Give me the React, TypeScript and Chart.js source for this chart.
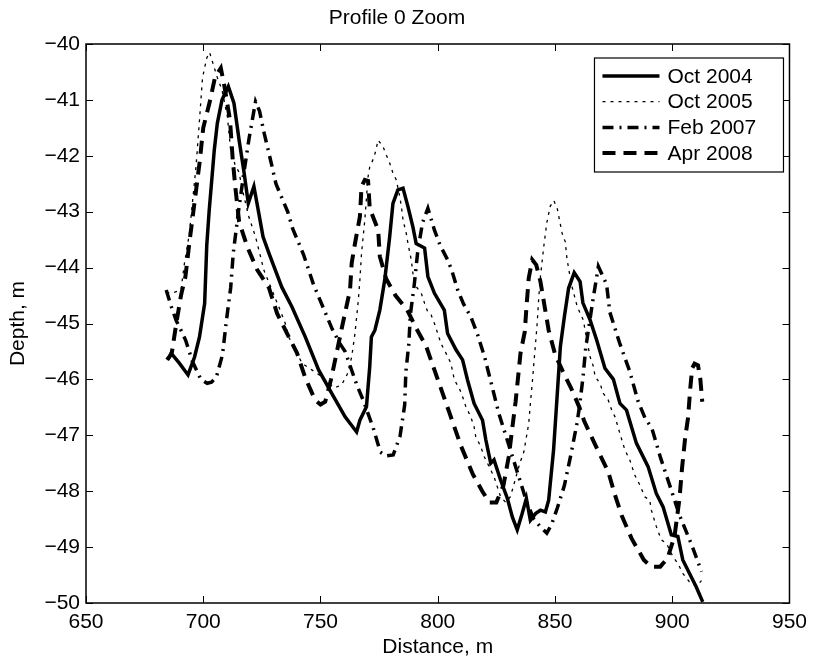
import React, { useEffect, useRef } from 'react';
import { Chart, registerables } from 'chart.js';

Chart.register(...registerables);

const FONT = '"Liberation Sans", Arial, Helvetica, sans-serif';

const chartTitle = 'Profile 0 Zoom';
const xAxisTitle = 'Distance, m';
const yAxisTitle = 'Depth, m';
const seriesLabels = ['Oct 2004', 'Oct 2005', 'Feb 2007', 'Apr 2008'];
const xTicks = [650, 700, 750, 800, 850, 900, 950];
const yTicks = [-50, -49, -48, -47, -46, -45, -44, -43, -42, -41, -40];

const oct2004: [number, number][] = [
  [684.9, -45.65], [686.3, -45.53], [689.8, -45.71], [693.5, -45.92], [696.3, -45.6], [698.4, -45.24],
  [700.6, -44.64], [701.5, -43.6], [702.5, -43.0], [704.7, -41.9], [706, -41.42], [708, -41.0],
  [710.7, -40.76], [713.1, -41.06], [715.3, -41.72], [717.4, -42.3], [719.2, -42.85], [721.6, -42.55],
  [723.7, -43.03], [725.5, -43.45], [728, -43.74], [733.5, -44.35], [737.8, -44.7], [743.5, -45.24],
  [749.2, -45.83], [754.8, -46.25], [760.5, -46.67], [765.4, -46.94], [766.8, -46.73], [769.6, -46.49],
  [770.3, -46.13], [771, -45.77], [771.7, -45.24], [773.2, -45.12], [775.3, -44.76], [777.4, -44.22],
  [779.5, -43.45], [780.9, -42.85], [783, -42.61], [785.2, -42.58], [787.3, -42.91], [789.4, -43.27],
  [790.8, -43.57], [794.4, -43.65], [795.8, -44.16], [798.6, -44.46], [802.8, -44.76], [804.2, -45.18],
  [807.8, -45.47], [810.6, -45.65], [812.7, -46.01], [815.5, -46.43], [819.1, -46.73], [820.5, -47.08],
  [822.6, -47.5], [824, -47.44], [826.8, -47.8], [829.7, -48.13], [831.8, -48.46], [833.9, -48.69],
  [836, -48.4], [837.8, -48.13], [839.5, -48.52], [841.7, -48.4], [843.8, -48.34], [845.9, -48.37],
  [847.3, -48.16], [849.4, -47.26], [850.8, -46.37], [852.3, -45.41], [854, -44.88], [855.8, -44.37],
  [858.2, -44.09], [860.7, -44.25], [861.9, -44.63], [865, -44.94], [867.8, -45.3], [871.3, -45.8],
  [874.9, -46.0], [877.7, -46.43], [880.5, -46.55], [884.7, -47.14], [889.7, -47.56], [893.2, -48.04],
  [896.1, -48.28], [899.6, -48.78], [902.4, -48.81], [904.5, -49.23], [910.2, -49.71], [913, -49.98],
];

const oct2005: [number, number][] = [
  [684.2, -44.45], [687, -44.45], [690.5, -44.4], [692, -43.92], [694.1, -43.39], [695.5, -42.79],
  [696.9, -42.2], [698.3, -41.42], [699.7, -40.6], [701.5, -40.25], [702.7, -40.15], [703.8, -40.3],
  [706, -40.6], [708, -40.82], [710.3, -41.3], [711.7, -41.9], [713.5, -42.15], [715.3, -42.3],
  [716.7, -42.61], [719.5, -43.1], [722.3, -43.45], [724.4, -43.8], [725.8, -44.04], [728.7, -44.34],
  [732.2, -44.7], [735, -45.0], [736.4, -45.24], [739.3, -45.47], [742.1, -45.71], [746.3, -45.83],
  [750.6, -45.95], [753.4, -46.07], [756, -46.15], [759, -46.1], [761.5, -45.9], [763.3, -45.6],
  [764.7, -45.18], [766.1, -44.6], [766.8, -44.22], [767.5, -43.74], [768.9, -43.15], [770.3, -42.37],
  [771, -42.2], [772.9, -42.02], [774.6, -41.72], [776.7, -41.84], [778.1, -41.99], [779.5, -42.13],
  [780.9, -42.31], [782.3, -42.43], [783.8, -42.73], [784.5, -42.91], [785.2, -43.15], [786.6, -43.39],
  [787.3, -43.57], [788.7, -43.86], [789.4, -44.1], [790.8, -44.34], [793, -44.46], [794.4, -44.64],
  [795.8, -44.8], [797.2, -44.85], [798.6, -45.0], [800, -45.18], [801.4, -45.36], [803.5, -45.53],
  [805.6, -45.71], [807.1, -46.01], [809.2, -46.16], [810.6, -46.31], [812, -46.49], [814.1, -46.67],
  [815.5, -46.85], [816.2, -47.02], [818.3, -47.2], [819.8, -47.38], [821.9, -47.56], [824, -47.74],
  [825.4, -47.92], [826.8, -48.1], [829, -48.2], [831, -48.1], [833, -47.8], [835, -47.5],
  [836.7, -47.3], [838.8, -46.79], [839.5, -46.43], [840.3, -46.07], [841, -45.71], [841.7, -45.36],
  [842.4, -45.0], [843.1, -44.52], [843.8, -44.16], [845.2, -43.63], [846.5, -43.2], [848, -42.9],
  [849.5, -42.8], [851, -42.95], [853, -43.38], [854.4, -43.54], [855.1, -43.84], [857, -44.3],
  [859.5, -44.7], [862.1, -44.94], [863.6, -45.3], [865, -45.6], [866.4, -45.77], [867.1, -45.95],
  [869.2, -46.07], [870.6, -46.25], [872.7, -46.37], [874.2, -46.55], [875.6, -46.67], [877.7, -46.97],
  [879.8, -47.26], [881.9, -47.44], [884, -47.71], [886.2, -47.89], [888.3, -48.1], [890.4, -48.16],
  [891.1, -48.34], [893.2, -48.63], [895.3, -48.87], [897.5, -48.93], [900.3, -49.17], [902.5, -49.3],
  [904.5, -49.47], [907.3, -49.62], [910.2, -49.7], [912.5, -49.6],
];

const feb2007: [number, number][] = [
  [684.2, -44.4], [686.4, -44.7], [688.5, -44.95], [690.5, -45.12], [692.5, -45.3], [695.4, -45.68],
  [699, -46.0], [701.7, -46.07], [703.5, -46.05], [705.6, -45.96], [708.2, -45.56], [709.9, -44.94],
  [711.7, -44.36], [712.8, -43.74], [715, -43.0], [717, -42.4], [719.5, -41.7], [722.3, -41.03],
  [724, -41.2], [726, -41.6], [729, -42.13], [731, -42.5], [733.6, -42.76], [736, -43.0],
  [738.1, -43.3], [742.8, -43.77], [747, -44.3], [752, -44.8], [755, -45.1], [758.3, -45.36],
  [760.5, -45.5], [763, -45.8], [765.5, -46.1], [768.2, -46.37], [772.5, -46.87], [775.5, -47.3],
  [778, -47.37], [781, -47.35], [783.9, -47.02], [785.9, -46.46], [786.4, -45.87], [787.7, -45.35],
  [788.3, -44.85], [790, -44.3], [791.5, -43.7], [793.5, -43.2], [795.8, -42.94], [798.6, -43.33],
  [801, -43.6], [804.2, -43.86], [806, -44.05], [808.5, -44.4], [811, -44.65], [814.1, -44.88],
  [817, -45.2], [820, -45.6], [823, -46.1], [826, -46.6], [829, -47.0], [832, -47.4],
  [835, -47.8], [838, -48.2], [841, -48.5], [844, -48.65], [846.5, -48.75], [848.5, -48.6],
  [851, -48.3], [854, -47.9], [857, -47.3], [859.3, -46.8], [860.4, -46.5], [861.9, -45.98],
  [863.1, -45.44], [866.1, -44.6], [868.5, -43.98], [872, -44.3], [873.4, -44.8], [877.5, -45.34],
  [881.9, -45.86], [885.5, -46.4], [888.5, -46.7], [891.3, -46.87], [895, -47.4], [899.6, -47.98],
  [903.1, -48.43], [908.3, -48.96], [912.5, -49.44],
];

const apr2008: [number, number][] = [
  [684.5, -45.65], [686.5, -45.55], [688.5, -45.0], [690.5, -44.5], [692.4, -44.16], [694.1, -43.55],
  [696.6, -42.73], [698.5, -42.1], [700, -41.5], [702.8, -41.03], [705, -40.6], [707.5, -40.43],
  [709, -40.75], [711.4, -41.36], [712.6, -42.08], [713.8, -42.61], [715.3, -43.18], [718.8, -43.63],
  [723, -44.04], [728, -44.36], [731.5, -44.82], [735.4, -45.15], [740, -45.53], [743.5, -45.97],
  [747.7, -46.37], [750, -46.45], [752, -46.4], [754.5, -46.0], [757, -45.5], [759.5, -45.0],
  [762.6, -44.4], [763.3, -43.92], [764.7, -43.57], [766.8, -43.09], [767.5, -42.55], [768.9, -42.43],
  [770.3, -42.45], [771, -42.94], [774.6, -43.33], [775.3, -43.8], [778, -44.2], [782, -44.5],
  [787, -44.76], [791, -45.1], [795, -45.4], [800, -46.0], [805, -46.6], [810, -47.2],
  [815, -47.7], [819, -48.0], [822, -48.2], [825, -48.2], [828, -47.9], [830.3, -47.38],
  [832, -46.8], [833.2, -46.4], [835.3, -45.53], [837.1, -45.15], [837.9, -44.67], [838.8, -44.19],
  [840.3, -43.86], [842, -43.95], [843.8, -44.25], [845.6, -44.7], [847.3, -45.12], [850.1, -45.56],
  [853.7, -45.89], [856.8, -46.15], [860.4, -46.5], [862.5, -46.75], [864.6, -46.94], [868.5, -47.29],
  [872.7, -47.65], [875.6, -48.07], [878.4, -48.43], [882.6, -48.84], [887.9, -49.23], [891, -49.35],
  [894.9, -49.35], [898, -49.2], [901, -48.8], [903.1, -48.13], [904.2, -47.58], [905.5, -47.05],
  [906.8, -46.67], [907.6, -46.2], [908.5, -45.8], [909.5, -45.72], [911, -45.75], [912, -46.0],
  [912.8, -46.4],
];

const seriesData = [oct2004, oct2005, feb2007, apr2008];
const seriesWidths = [3.5, 1.3, 3.5, 4];
const seriesDashes: number[][] = [[], [3, 5], [11, 6, 2, 6], [13, 8]];

const fmt = (v: number) => (v < 0 ? '\u2212' + Math.abs(v) : String(v));

const frame = {
  id: 'matFrame',
  afterDatasetsDraw(chart: any) {
    const { ctx, chartArea, scales } = chart;
    const { left, right, top, bottom } = chartArea;
    const tl = 7;
    ctx.save();
    ctx.strokeStyle = '#000';
    ctx.lineWidth = 1;
    ctx.setLineDash([]);
    ctx.beginPath();
    xTicks.forEach((v) => {
      const px = Math.round(scales.x.getPixelForValue(v)) + 0.5;
      ctx.moveTo(px, bottom); ctx.lineTo(px, bottom - tl);
      ctx.moveTo(px, top); ctx.lineTo(px, top + tl);
    });
    yTicks.forEach((v) => {
      const py = Math.round(scales.y.getPixelForValue(v)) + 0.5;
      ctx.moveTo(left, py); ctx.lineTo(left + tl, py);
      ctx.moveTo(right, py); ctx.lineTo(right - tl, py);
    });
    ctx.stroke();
    ctx.lineWidth = 1.5;
    ctx.strokeRect(left, top, right - left, bottom - top);

    // legend
    const boxW = 189;
    const boxH = 114;
    const boxL = right - 6 - boxW;
    const boxT = top + 14;
    ctx.fillStyle = '#fff';
    ctx.fillRect(boxL, boxT, boxW, boxH);
    ctx.lineWidth = 1.2;
    ctx.strokeRect(boxL, boxT, boxW, boxH);
    ctx.font = `21px ${FONT}`;
    ctx.textBaseline = 'middle';
    ctx.textAlign = 'left';
    chart.data.datasets.forEach((ds: any, i: number) => {
      const y = boxT + 18 + i * 25.7;
      ctx.beginPath();
      ctx.setLineDash(ds.borderDash || []);
      ctx.lineWidth = ds.borderWidth;
      ctx.strokeStyle = '#000';
      ctx.moveTo(boxL + 8, y);
      ctx.lineTo(boxL + 65, y);
      ctx.stroke();
      ctx.setLineDash([]);
      ctx.fillStyle = '#000';
      ctx.fillText(ds.label, boxL + 73, y + 1);
    });
    ctx.restore();
  },
};

export default function App() {
  const ref = useRef<HTMLCanvasElement>(null);
  useEffect(() => {
    if (!ref.current) return;
    const chart = new Chart(ref.current, {
      type: 'line',
      data: {
        datasets: seriesData.map((s, i) => ({
          label: seriesLabels[i],
          data: s.map(([x, y]) => ({ x, y })),
          borderColor: '#000',
          backgroundColor: '#000',
          borderWidth: seriesWidths[i],
          borderDash: seriesDashes[i],
          pointRadius: 0,
          tension: 0,
          fill: false,
        })),
      },
      options: {
        animation: false,
        responsive: false,
        devicePixelRatio: 1,
        layout: { padding: { left: 0, right: 20, top: 0, bottom: 0 } },
        plugins: {
          legend: { display: false },
          tooltip: { enabled: false },
          title: {
            display: true,
            text: chartTitle,
            color: '#000',
            font: { family: FONT, size: 21, weight: 'normal' },
            padding: { top: 6, bottom: 12.8 },
          },
        },
        scales: {
          x: {
            type: 'linear',
            min: 650,
            max: 950,
            afterFit: (s: any) => { s.height = 55; },
            ticks: {
              stepSize: 50,
              autoSkip: false,
              maxRotation: 0,
              padding: 7,
              color: '#000',
              font: { family: FONT, size: 21 },
              callback: (v: any) => fmt(Number(v)),
            },
            grid: { display: false, drawTicks: false },
            border: { display: false },
            title: {
              display: true,
              text: xAxisTitle,
              color: '#000',
              font: { family: FONT, size: 21, lineHeight: 1 },
              padding: { top: 0, bottom: 0 },
            },
          },
          y: {
            type: 'linear',
            min: -50,
            max: -40,
            afterFit: (s: any) => { s.width = 86; },
            ticks: {
              stepSize: 1,
              autoSkip: false,
              padding: 6,
              color: '#000',
              font: { family: FONT, size: 21 },
              callback: (v: any) => fmt(Number(v)),
            },
            grid: { display: false, drawTicks: false },
            border: { display: false },
            title: {
              display: true,
              text: yAxisTitle,
              color: '#000',
              font: { family: FONT, size: 21, lineHeight: 1 },
              padding: { top: 8, bottom: 0 },
            },
          },
        },
      },
      plugins: [frame],
    });
    return () => chart.destroy();
  }, []);
  return (
    <div style={{ position: 'absolute', left: 0, top: 0, width: 814, height: 658, background: '#fff' }}>
      <canvas ref={ref} width={814} height={658} style={{ display: 'block' }} />
    </div>
  );
}
